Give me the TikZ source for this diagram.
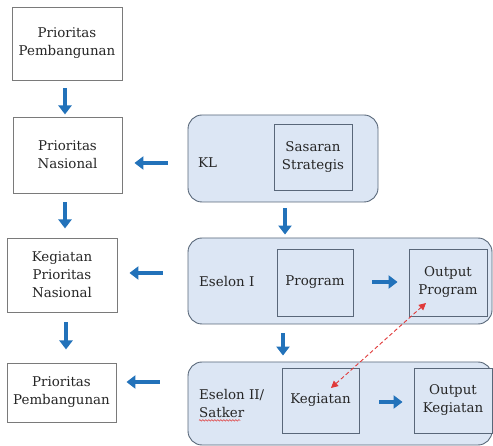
\documentclass[tikz,border=0pt]{standalone}
\usepackage{fontspec}
\setmainfont{DejaVu Serif}
\usetikzlibrary{arrows.meta,decorations.pathmorphing}
\definecolor{boxfill}{HTML}{DCE6F4}
\definecolor{boxline}{HTML}{596779}
\definecolor{graybox}{HTML}{7A7A7A}
\definecolor{arrblue}{HTML}{2272BA}
\definecolor{redline}{HTML}{E03A3A}
\definecolor{txt}{HTML}{262626}
\begin{document}
\begin{tikzpicture}[x=1pt,y=-1pt,
  every node/.style={font=\fontsize{13.4}{18}\selectfont,text=txt},
  leftbox/.style={draw=graybox,line width=0.9pt,fill=white,align=center,inner sep=0pt},
  roundbox/.style={draw=boxline,line width=0.9pt,fill=boxfill,rounded corners=14pt,inner sep=0pt},
  innerbox/.style={draw=boxline,line width=0.9pt,fill=boxfill,align=center,inner sep=0pt},
  barrow/.style={draw=arrblue,line width=4.5pt,-{Triangle[width=13pt,length=9pt]}},
  lbl/.style={anchor=west,align=left,inner sep=0pt}]
\useasboundingbox (0,0) rectangle (493,446);
% left column
\node[leftbox,minimum width=110pt,minimum height=73pt] (b1) at (67,43.5) {Prioritas\\Pembangunan};
\node[leftbox,minimum width=109pt,minimum height=76pt] (b2) at (67.5,155) {Prioritas\\Nasional};
\node[leftbox,minimum width=110pt,minimum height=74pt] (b3) at (62,275) {Kegiatan\\Prioritas\\Nasional};
\node[leftbox,minimum width=109pt,minimum height=59pt] (b4) at (61.5,392.5) {Prioritas\\Pembangunan};
% right rounded boxes
\node[roundbox,minimum width=190pt,minimum height=87pt] (kl) at (283,158.5) {};
\node[roundbox,minimum width=304pt,minimum height=86pt] (e1) at (340,281) {};
\node[roundbox,minimum width=304pt,minimum height=83pt] (e2) at (340,403.5) {};
% labels
\node[lbl] (kllbl) at (198,163) {KL};
\node[lbl] (e1lbl) at (199,282) {Eselon I};
\node[lbl] (e2lbl) at (199,403.5) {Eselon II/\\Satker};
% inner boxes
\node[innerbox,minimum width=78pt,minimum height=66pt] (ss) at (313,157) {Sasaran\\Strategis};
\node[innerbox,minimum width=76pt,minimum height=67pt] (prog) at (315,282.5) {Program};
\node[innerbox,minimum width=78pt,minimum height=67pt] (outp) at (448,282.5) {Output\\Program};
\node[innerbox,minimum width=77pt,minimum height=65pt] (keg) at (320.5,400.5) {Kegiatan};
\node[innerbox,minimum width=78pt,minimum height=65pt] (outk) at (453,400.5) {Output\\Kegiatan};
% spell-check underline
\draw[redline,line width=0.5pt,decorate,decoration={snake,amplitude=0.8pt,segment length=3pt}]
  ([yshift=-2.5pt]e2lbl.south west) -- ([xshift=-24pt,yshift=-2.5pt]e2lbl.south east);
% down arrows (left column)
\draw[barrow] (b1.south -| 65,0) ++(0,8) coordinate (a1s) -- ++(0,26) coordinate (a1e);
\draw[barrow] (b2.south -| 65,0) ++(0,9) coordinate (a2s) -- ++(0,26) coordinate (a2e);
\draw[barrow] (b3.south -| 66,0) ++(0,10) coordinate (a3s) -- ++(0,27) coordinate (a3e);
% left arrows
\draw[barrow,shorten <=20pt,shorten >=12pt] (kl.west |- 0,163) -- (b2.east |- 0,163);
\draw[barrow,shorten <=25pt,shorten >=12pt] (e1.west |- 0,273) -- (b3.east |- 0,273);
\draw[barrow,shorten <=28pt,shorten >=10pt] (e2.west |- 0,382) -- (b4.east |- 0,382);
% down arrows (right)
\draw[barrow,shorten <=6pt,shorten >=3pt] (kl.south -| 285,0) -- (e1.north -| 285,0);
\draw[barrow,shorten <=9pt,shorten >=6pt] (e1.south -| 283,0) -- (e2.north -| 283,0);
% right arrows
\draw[barrow,shorten <=19pt,shorten >=11pt] (prog.east |- 0,282) -- (outp.west |- 0,282);
\draw[barrow,shorten <=20pt,shorten >=11pt] (keg.east |- 0,402) -- (outk.west |- 0,402);
% red dashed double arrow
\coordinate (rk) at (331,388);
\coordinate (ro) at (426,303);
\draw[redline,line width=0.9pt,dashed,dash pattern=on 4pt off 2.5pt,{Triangle[width=7pt,length=7pt]}-{Triangle[width=7pt,length=7pt]}] (rk) -- (ro);
\end{tikzpicture}
\end{document}
